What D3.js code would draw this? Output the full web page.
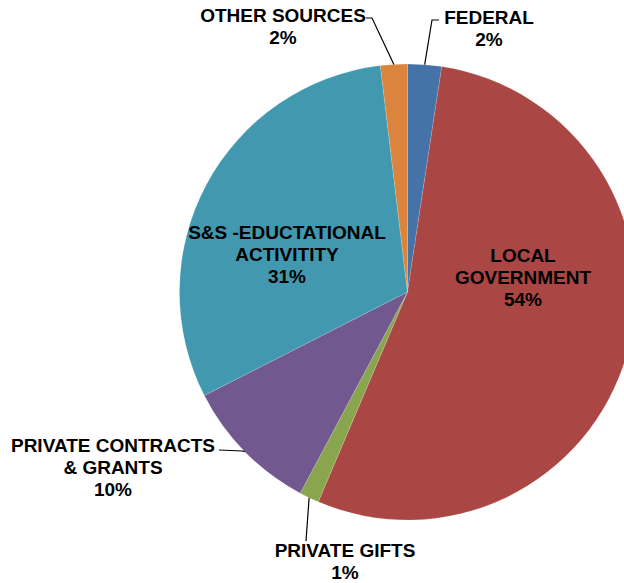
<!DOCTYPE html>
<html><head><meta charset="utf-8">
<script src="https://cdn.jsdelivr.net/npm/d3@7"></script>
<style>
html,body{margin:0;padding:0;background:#fff;overflow:hidden;}
svg{display:block;}
text{font-family:"Liberation Sans",Arial,sans-serif;font-weight:bold;font-size:19px;fill:#000;}
</style></head>
<body>
<svg id="chart" width="624" height="583"></svg>
<script>
// Data
const categories = ["FEDERAL", "LOCAL GOVERNMENT", "PRIVATE GIFTS", "PRIVATE CONTRACTS & GRANTS", "S&S -EDUCTATIONAL ACTIVITITY", "OTHER SOURCES"];
const values = [2.4, 54.0, 1.4, 9.7, 30.6, 1.9];
const percentLabels = ["2%", "54%", "1%", "10%", "31%", "2%"];
const labelLines = [["FEDERAL"], ["LOCAL", "GOVERNMENT"], ["PRIVATE GIFTS"], ["PRIVATE CONTRACTS", "& GRANTS"], ["S&S -EDUCTATIONAL", "ACTIVITITY"], ["OTHER SOURCES"]];
const colors = ["#4572A7", "#AA4643", "#89A54E", "#71588F", "#4198AF", "#DB843D"];

// Layout (label anchors: x center, first baseline y; leader: elbow points)
const layout = [
  {x: 489, y: 24, leader: [[432, 20], [439, 20]]},
  {x: 523, y: 262, leader: null},
  {x: 345, y: 557, leader: [[306, 541]]},
  {x: 113, y: 452, leader: [[242, 451], [219, 450]]},
  {x: 287, y: 239, leader: null},
  {x: 283, y: 22, leader: [[372, 18], [366, 18]]}
];

const svg = d3.select("#chart");
const cx = 407.5, cy = 292, R = 228;
const g = svg.append("g").attr("transform", `translate(${cx},${cy})`);

const pie = d3.pie().sort(null).value(d => d);
const arcs = pie(values);
const arc = d3.arc().innerRadius(0).outerRadius(R);
const color = d3.scaleOrdinal().domain(categories).range(colors);

g.selectAll("path.slice").data(arcs).enter().append("path")
  .attr("class", "slice")
  .attr("d", arc)
  .attr("fill", (d, i) => color(categories[i]))
  .attr("stroke", "#ffffff")
  .attr("stroke-opacity", 0.3)
  .attr("stroke-width", 0.5);

// leader lines
arcs.forEach((d, i) => {
  const L = layout[i];
  if (!L.leader) return;
  const mid = (d.startAngle + d.endAngle) / 2;
  const p0 = [cx + R * Math.sin(mid), cy - R * Math.cos(mid)];
  const pts = [p0].concat(L.leader);
  svg.append("path")
    .attr("d", d3.line()(pts))
    .attr("fill", "none")
    .attr("stroke", "#000")
    .attr("stroke-width", 1.2);
});

// labels
arcs.forEach((d, i) => {
  const L = layout[i];
  const lines = labelLines[i].concat([percentLabels[i]]);
  const t = svg.append("text").attr("text-anchor", "middle");
  lines.forEach((s, k) => {
    t.append("tspan").attr("x", L.x).attr("y", L.y + k * 22).text(s);
  });
});
</script>
</body></html>
